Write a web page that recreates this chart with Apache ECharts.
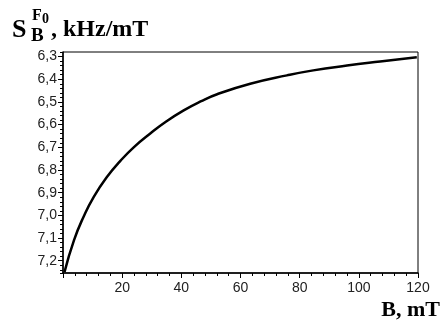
<!DOCTYPE html>
<html>
<head>
<meta charset="utf-8">
<script src="https://cdn.jsdelivr.net/npm/echarts@6/dist/echarts.min.js"></script>
<style>
  html, body { margin: 0; padding: 0; background: #fff; }
  #chart { width: 441px; height: 322px; }
</style>
</head>
<body>
<div id="chart"></div>
<script>
// B, mT
const bValues = [0.5, 3.7, 7.0, 10.4, 14.9, 19.4, 23.9, 29.6, 35, 40.8, 46.5, 52.1, 63.3, 75.7, 84.6, 96, 107.2, 119.6]
// S_B^F0, kHz/mT
const sValues = [7.25, 7.11, 7.005, 6.918, 6.83, 6.76, 6.70, 6.638, 6.585, 6.537, 6.498, 6.466, 6.42, 6.383, 6.361, 6.34, 6.322, 6.303]
const yTicks = [6.3, 6.4, 6.5, 6.6, 6.7, 6.8, 6.9, 7.0, 7.1, 7.2]

const serif = '"Liberation Serif", "Times New Roman", serif'
const sans = '"Liberation Sans", Arial, sans-serif'

const chart = echarts.init(document.getElementById('chart'))
chart.setOption({
    animation: false,
    grid: {
        left: 63,
        right: 23,
        top: 52,
        bottom: 49,
        show: true,
        borderColor: '#000',
        borderWidth: 1,
    },
    xAxis: {
        type: 'value',
        min: 0,
        max: 120,
        interval: 20,
        axisLine: { lineStyle: { color: '#000', width: 1.5 } },
        axisTick: { length: 5, lineStyle: { color: '#000' } },
        minorTick: { show: true, splitNumber: 5, length: 3, lineStyle: { color: '#000' } },
        splitLine: { show: false },
        axisLabel: {
            color: '#222',
            fontFamily: sans,
            fontSize: 14,
            margin: 8,
            showMinLabel: false,
        },
    },
    yAxis: [{
        // minor ticks, every 0.02
        type: 'value',
        inverse: true,
        min: 6.28,
        max: 7.254,
        interval: 0.02,
        axisLine: { lineStyle: { color: '#000', width: 1.5 } },
        axisTick: { length: 3, lineStyle: { color: '#000' } },
        axisLabel: { show: false },
        splitLine: { show: false },
    }, {
        // major ticks and labels
        type: 'value',
        position: 'left',
        inverse: true,
        min: 6.28,
        max: 7.254,
        axisLine: { show: false },
        axisTick: { length: 5, customValues: yTicks, lineStyle: { color: '#000' } },
        axisLabel: {
            customValues: yTicks,
            color: '#222',
            fontFamily: sans,
            fontSize: 14,
            margin: 6,
            formatter: (v) => v.toFixed(1).replace('.', ','),
        },
        splitLine: { show: false },
    }],
    graphic: [
        { type: 'text', left: 12, top: 17, style: { text: 'S', font: 'bold 26px ' + serif, fill: '#000' } },
        { type: 'text', left: 32, top: 8, style: { text: 'F', font: 'bold 16px ' + serif, fill: '#000' } },
        { type: 'text', left: 42, top: 12, style: { text: '0', font: 'bold 14px ' + serif, fill: '#000' } },
        { type: 'text', left: 31, top: 27, style: { text: 'B', font: 'bold 19px ' + serif, fill: '#000' } },
        { type: 'text', left: 51, top: 18, style: { text: ', kHz/mT', font: 'bold 24px ' + serif, fill: '#000' } },
        { type: 'text', right: 1, top: 299, style: { text: 'B, mT', font: 'bold 22px ' + serif, fill: '#000' } },
    ],
    series: [{
        type: 'line',
        yAxisIndex: 0,
        data: bValues.map((b, i) => [b, sValues[i]]),
        smooth: 0.5,
        symbol: 'none',
        lineStyle: { color: '#000', width: 2.5 },
    }],
})
</script>
</body>
</html>
